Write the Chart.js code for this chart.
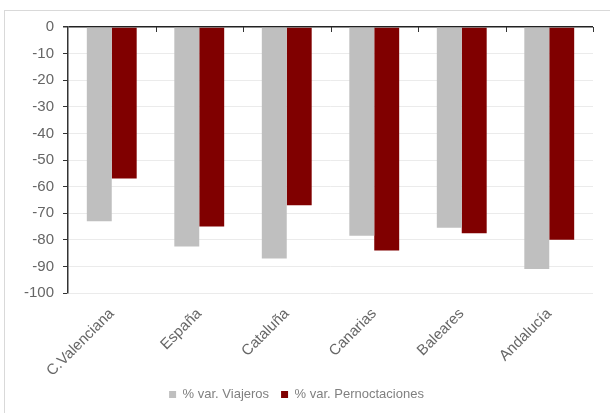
<!DOCTYPE html>
<html>
<head>
<meta charset="utf-8">
<script src="https://cdn.jsdelivr.net/npm/chart.js@4"></script>
<style>
    html, body { margin: 0; padding: 0; background: #fff; }
    #wrap { position: relative; width: 610px; height: 413px; overflow: hidden; }
    #frame {
        position: absolute; left: 4px; top: 10px; width: 700px; height: 500px;
        border: 1px solid #d9d9d9; box-sizing: border-box;
    }
    canvas { position: absolute; left: 0; top: 0; }
</style>
</head>
<body>
<div id="wrap">
    <div id="frame"></div>
    <canvas id="chart" width="610" height="413"></canvas>
</div>
<script>
const regions = ['C.Valenciana', 'España', 'Cataluña', 'Canarias', 'Baleares', 'Andalucía'];
const viajeros = [-73, -82.5, -87, -78.5, -75.5, -91];
const pernoctaciones = [-57, -75, -67, -84, -77.5, -80];
const yTicks = [0, -10, -20, -30, -40, -50, -60, -70, -80, -90, -100];

const fontFamily = '"Liberation Sans", Arial, sans-serif';
const tickGray = '#666666';

// small tick marks hanging under the zero line, at the category boundaries
const boundaryTicks = {
    id: 'boundaryTicks',
    afterDatasetsDraw(chart) {
        const x = chart.scales.x;
        const y = chart.scales.y;
        const ctx = chart.ctx;
        const y0 = y.getPixelForValue(0);
        const step = (x.right - x.left) / regions.length;
        ctx.save();
        ctx.strokeStyle = '#333333';
        ctx.lineWidth = 1;
        for (let i = 1; i <= regions.length; i++) {
            const px = Math.round(x.left + step * i) + 0.5;
            ctx.beginPath();
            ctx.moveTo(px, y0);
            ctx.lineTo(px, y0 + 5);
            ctx.stroke();
        }
        ctx.restore();
    }
};

document.addEventListener('DOMContentLoaded', () => {
    const ctx = document.getElementById('chart').getContext('2d');
    new Chart(ctx, {
        type: 'bar',
        data: {
            labels: regions,
            datasets: [{
                label: '% var. Viajeros',
                data: viajeros,
                backgroundColor: '#bfbfbf',
                categoryPercentage: 0.57,
                barPercentage: 1.0
            }, {
                label: '% var. Pernoctaciones',
                data: pernoctaciones,
                backgroundColor: '#800000',
                categoryPercentage: 0.57,
                barPercentage: 1.0
            }]
        },
        options: {
            responsive: false,
            animation: false,
            layout: {
                padding: { left: 0, top: 27, right: 17, bottom: 2 }
            },
            scales: {
                x: {
                    grid: { display: false },
                    border: { display: false },
                    ticks: {
                        color: tickGray,
                        font: { family: fontFamily, size: 15 },
                        maxRotation: 45,
                        minRotation: 45,
                        padding: 4
                    },
                    afterFit: (scale) => { scale.height = 83; }
                },
                y: {
                    min: -100,
                    max: 0,
                    afterBuildTicks: (scale) => {
                        scale.ticks = yTicks.map(v => ({ value: v }));
                    },
                    grid: {
                        color: (c) => c.tick && c.tick.value === 0 ? '#222222' : '#ebebeb',
                        lineWidth: (c) => c.tick && c.tick.value === 0 ? 1.5 : 1,
                        tickColor: '#333333',
                        tickLength: 5
                    },
                    border: { display: true, color: '#333333', width: 1.5 },
                    ticks: {
                        color: tickGray,
                        font: { family: fontFamily, size: 15 },
                        padding: 9
                    },
                    afterFit: (scale) => { scale.width = 68; }
                }
            },
            plugins: {
                legend: {
                    position: 'bottom',
                    labels: {
                        boxWidth: 7,
                        boxHeight: 7,
                        color: '#808080',
                        padding: 12,
                        font: { family: fontFamily, size: 13 }
                    }
                },
                tooltip: { enabled: false }
            }
        },
        plugins: [boundaryTicks]
    });
});
</script>
</body>
</html>
